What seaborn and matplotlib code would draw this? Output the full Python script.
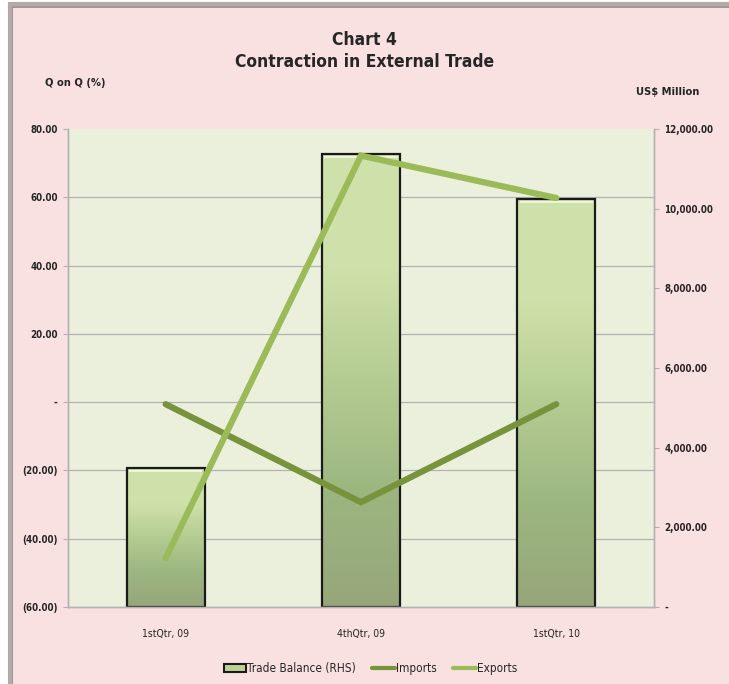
import matplotlib
matplotlib.use("Agg")
import matplotlib.pyplot as plt
import seaborn as sns
import pandas as pd
import numpy as np
from matplotlib.patches import Patch, Rectangle
from matplotlib.lines import Line2D
from matplotlib.colors import LinearSegmentedColormap
from matplotlib.ticker import FuncFormatter
import matplotlib.transforms as mtransforms

# Data
quarters = ["1stQtr, 09", "4thQtr, 09", "1stQtr, 10"]
tradeBalance = [3480, 11380, 10250]   # US$ Million (RHS)
imports = [-0.6, -29.3, -0.6]         # Q on Q (%)
exports = [-45.7, 72.2, 59.8]         # Q on Q (%)

leftTicks = [-60, -40, -20, 0, 20, 40, 60, 80]
rightTicks = [0, 2000, 4000, 6000, 8000, 10000, 12000]

sns.set_style("white")
plt.rcParams['font.family'] = ['DejaVu Sans']
plt.rcParams['font.stretch'] = 'condensed'

pink = "#F9E0E1"
plotBg = "#EBF0DD"
gridCol = "#B2B2B2"
importsCol = "#77933C"
exportsCol = "#9BBB59"

fig = plt.figure(figsize = (7.29, 6.84), dpi = 100, facecolor = "white")

# outer frame of the chart
fig.patches.append(Rectangle((0.0137 + 0.003, -0.02), 1.0, 1.0 - 0.0058 + 0.02 - 0.005,
	transform = fig.transFigure, facecolor = pink, edgecolor = "#8F8686", lw = 1.2, zorder = -2))
fig.patches.append(Rectangle((0.0137, -0.02), 1.0, 1.0 - 0.0058 + 0.02,
	transform = fig.transFigure, facecolor = "none", edgecolor = "#B5AAAA", lw = 3, zorder = -2))

ax = fig.add_axes([0.0933, 0.1126, 0.8037, 0.6988])
ax2 = ax.twinx()

# Bars on the right axis
df = pd.DataFrame({"quarter": quarters, "balance": tradeBalance})
sns.barplot(data = df, x = "quarter", y = "balance", ax = ax2, width = 0.4,
	color = "#BCD296", edgecolor = "#1A1A1A", linewidth = 1.6, zorder = 2)

# gradient fill inside every bar
cmap = LinearSegmentedColormap.from_list("barGrad", ["#97A67A", "#9CB680", "#B4CC92", "#CFE1AA", "#D0E2AC"])
grad = np.linspace(0, 1, 256).reshape(-1, 1)
for bar in list(ax2.patches):
	x0, y0 = bar.get_x(), bar.get_y()
	w, h = bar.get_width(), bar.get_height()
	img = ax2.imshow(grad, cmap = cmap, origin = "lower", aspect = "auto",
		extent = (x0, x0 + w, y0, y0 + h), zorder = 1.5, interpolation = "bicubic")
	img.set_clip_path(bar)
	bar.set_facecolor("none")
	# light highlight just below the top edge
	ax2.plot([x0 + w * 0.03, x0 + w * 0.97], [y0 + h, y0 + h], color = "#F2F7E2", lw = 1.3,
		zorder = 1.8, transform = ax2.transData + mtransforms.ScaledTranslation(0, -2.2 / 72, fig.dpi_scale_trans),
		solid_capstyle = "butt")

ax2.set_ylim(0, 12000)
ax2.set_xlim(-0.5, 2.5)
ax2.set_yticks(rightTicks)
ax2.yaxis.set_major_formatter(FuncFormatter(lambda v, p: "-" if v == 0 else f"{v:,.2f}"))
ax2.set_yticks(np.linspace(0, 12000, 8), minor = True)
ax2.grid(False)
ax2.yaxis.grid(True, which = "minor", color = gridCol, lw = 0.9)
ax2.tick_params(axis = "y", which = "minor", length = 0)
ax2.tick_params(axis = "y", which = "major", length = 3.5, width = 0.8, color = gridCol,
	labelsize = 7, pad = 4, direction = "out")
for lab in ax2.get_yticklabels():
	lab.set_fontweight("bold")
ax2.set_ylabel("")
ax2.set_xlabel("")
ax2.patch.set_visible(True)
ax2.patch.set_facecolor(plotBg)
ax2.set_axisbelow(True)

# Lines on the left axis
sns.pointplot(x = quarters, y = imports, ax = ax, color = importsCol, markers = "",
	linestyles = "-", linewidth = 4.5)
sns.pointplot(x = quarters, y = exports, ax = ax, color = exportsCol, markers = "",
	linestyles = "-", linewidth = 4.5)
for ln in ax.lines:
	ln.set_solid_capstyle("round")
	ln.set_solid_joinstyle("miter")

ax.set_ylim(-60, 80)
ax.set_xlim(-0.5, 2.5)
ax.set_yticks(leftTicks)
ax.yaxis.set_major_formatter(FuncFormatter(lambda v, p: "-" if v == 0 else (f"({abs(v):.2f})" if v < 0 else f"{v:.2f}")))
ax.tick_params(axis = "y", length = 3.5, width = 0.8, color = gridCol, labelsize = 7, pad = 4)
for lab in ax.get_yticklabels():
	lab.set_fontweight("bold")
ax.tick_params(axis = "x", length = 0, labelsize = 7.5, pad = 16)
ax.set_xlabel("")
ax.set_ylabel("")
ax.set_zorder(ax2.get_zorder() + 1)
ax.patch.set_visible(False)

for a in (ax, ax2):
	for side in ["left", "right", "bottom"]:
		a.spines[side].set_color(gridCol)
		a.spines[side].set_linewidth(1)
	a.spines["top"].set_visible(False)

# Titles and axis captions
fig.text(0.5, 0.9415, "Chart 4", ha = "center", va = "center", fontsize = 12.5, fontweight = "bold")
fig.text(0.5, 0.909, "Contraction in External Trade", ha = "center", va = "center", fontsize = 12.5, fontweight = "bold")
fig.text(0.103, 0.879, "Q on Q (%)", ha = "center", va = "center", fontsize = 8, fontweight = "bold")
fig.text(0.916, 0.865, "US$ Million", ha = "center", va = "center", fontsize = 8, fontweight = "bold")

handles = [
	Patch(facecolor = "#BCD296", edgecolor = "#1A1A1A", lw = 1.5, label = "Trade Balance (RHS)"),
	Line2D([0], [0], color = importsCol, lw = 3, label = "Imports"),
	Line2D([0], [0], color = exportsCol, lw = 3, label = "Exports"),
]
fig.legend(handles = handles, loc = "center", bbox_to_anchor = (0.508, 0.023), ncol = 3,
	frameon = False, fontsize = 8.5, handlelength = 1.9, handletextpad = 0.1, columnspacing = 1.4)

fig.savefig("out.png", dpi = 100, facecolor = fig.get_facecolor())
